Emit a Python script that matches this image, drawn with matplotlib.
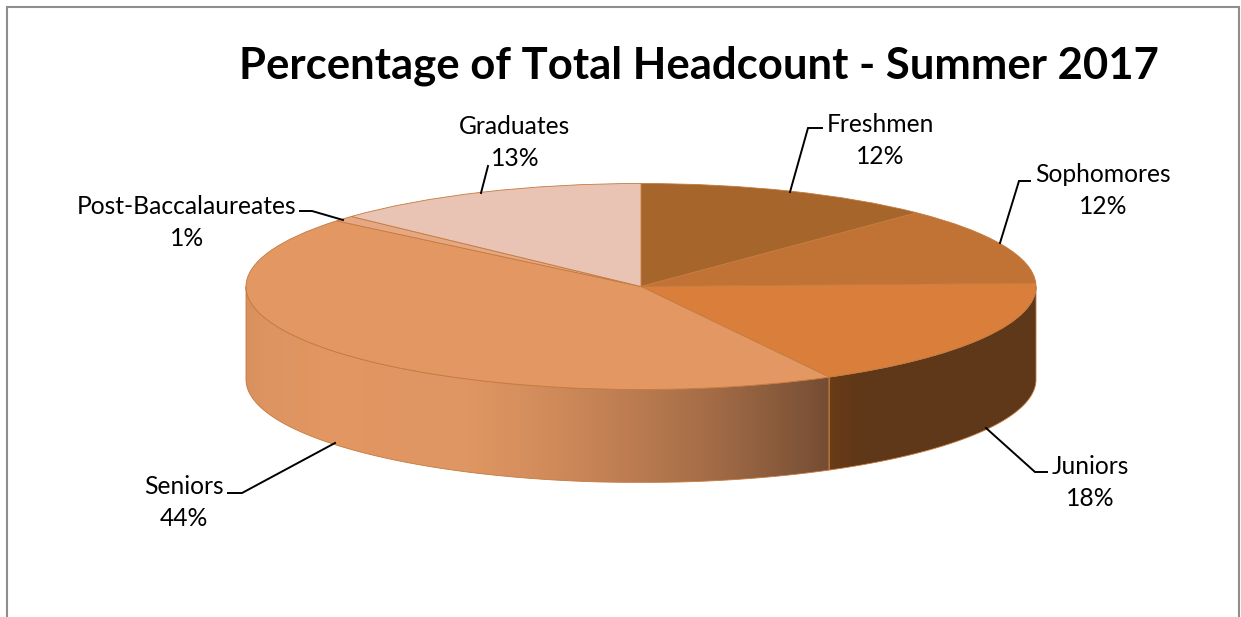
import numpy as np
import matplotlib
matplotlib.use("Agg")
import matplotlib.pyplot as plt
from matplotlib.colors import LinearSegmentedColormap
from matplotlib.patches import Polygon

# ---- data ----
categories = ["Freshmen", "Sophomores", "Juniors", "Seniors", "Post-Baccalaureates", "Graduates"]
values = [12.3, 12.2, 17.6, 43.9, 0.9, 13.1]
title_text = "Percentage of Total Headcount - Summer 2017"

# ---- styles ----
top_colors = ["#A5652B", "#C07334", "#D97F3B", "#E39864", "#E6A883", "#E9C3B3"]
edge_color = "#C47A3E"
W, H = 1241, 617
cx, cy, rx, ry, depth = 641, 286.5, 395, 103, 93
FONT = "Lato"
d = depth / ry

fig = plt.figure(figsize=(W / 100, H / 100), dpi=100, facecolor="white")
ax = fig.add_axes([(cx - rx) / W, 1 - (cy + ry + depth) / H, 2 * rx / W, (2 * ry + depth) / H])
wedges, _ = ax.pie(values, colors=top_colors, startangle=90, counterclock=False, radius=1,
                   wedgeprops=dict(edgecolor=edge_color, linewidth=0.6, zorder=5))
ax.axis("off")

bounds = np.cumsum([0] + values) / sum(values) * 360


def side_points(a0, a1):
    th = np.radians(np.linspace(a0, a1, 200))
    x, y = np.sin(th), np.cos(th)
    return np.r_[np.c_[x, y], np.c_[x, y - d][::-1]]


def gradient_side(a0, a1, stops):
    pts = side_points(a0, a1)
    poly = Polygon(pts, closed=True, facecolor="none", edgecolor=edge_color, linewidth=0.6,
                   zorder=3, clip_on=False)
    ax.add_patch(poly)
    cmap = LinearSegmentedColormap.from_list("side", stops)
    im = ax.imshow(np.linspace(0, 1, 512)[None, :], cmap=cmap, aspect="auto",
                   extent=(pts[:, 0].min(), pts[:, 0].max(), -1 - d, 1), zorder=2)
    im.set_clip_path(poly)


jun_i, sen_i = categories.index("Juniors"), categories.index("Seniors")
gradient_side(90, bounds[jun_i + 1],
              [(0, "#6A3D16"), (0.05, "#653A17"), (0.15, "#5F3819"), (1, "#5F3819")])
gradient_side(bounds[sen_i], 270,
              [(0, "#D8905F"), (0.03, "#DD9460"), (0.14, "#E39763"), (0.38, "#DF9662"),
               (0.52, "#D18B5B"), (0.68, "#B97A4F"), (0.8, "#A36C47"), (1, "#754D33")])
ax.set_aspect("auto")
ax.set_xlim(-1, 1)
ax.set_ylim(-1 - d, 1)

# overlay in pixel coordinates for the title, labels, leaders and frame
ov = fig.add_axes([0, 0, 1, 1], facecolor="none")
ov.set_xlim(0, W)
ov.set_ylim(H, 0)
ov.axis("off")

ov.plot([7, 7, 1238.5, 1238.5], [H, 7, 7, H], color="#8E8E8E", lw=1.5, solid_joinstyle="miter")
ov.text(699, 66, title_text, ha="center", va="center", fontsize=31.4, fontweight="bold",
        family=FONT, color="black")

label_pos = {
    "Freshmen": (880, 140.5),
    "Sophomores": (1103, 190.5),
    "Juniors": (1090, 482.5),
    "Seniors": (184, 502.5),
    "Post-Baccalaureates": (187, 222.5),
    "Graduates": (515, 142.5),
}
leaders = {
    "Freshmen": [(790, 192), (808, 128), (822, 128)],
    "Sophomores": [(1000, 243), (1019, 181), (1030, 181)],
    "Juniors": [(986, 428), (1035, 472), (1047, 472)],
    "Seniors": [(335, 443), (242, 493), (228, 493)],
    "Post-Baccalaureates": [(343, 220), (312, 211), (300, 211)],
    "Graduates": [(481, 193), (488, 166)],
}
for name, v in zip(categories, values):
    x, y = label_pos[name]
    ov.text(x, y, f"{name}\n{v:.0f}%", ha="center", va="center", fontsize=17.7, family=FONT,
            color="black", linespacing=1.5)
    pts = np.array(leaders[name])
    ov.plot(pts[:, 0], pts[:, 1], color="black", lw=1.4, solid_joinstyle="miter")

fig.savefig("out.png", dpi=100, facecolor="white")
